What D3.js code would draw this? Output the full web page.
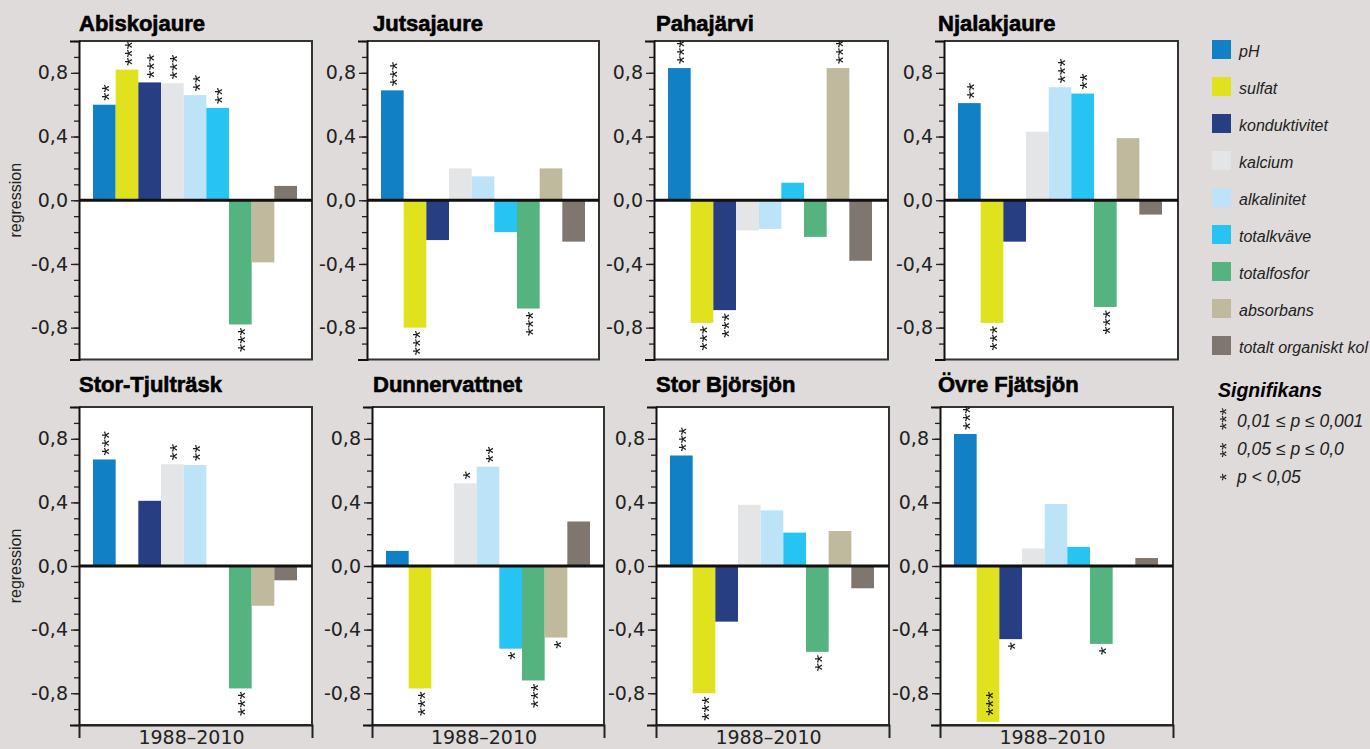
<!DOCTYPE html>
<html><head><meta charset="utf-8">
<script src="https://cdn.jsdelivr.net/npm/d3@7"></script>
<style>
html,body{margin:0;padding:0;background:#dedbda;}
svg{display:block;}
.stars{filter:grayscale(1);}
</style></head><body>
<svg id="chart" width="1370" height="749"></svg>
<script>
// ---------- data ----------
const variables = ["pH","sulfat","konduktivitet","kalcium","alkalinitet","totalkväve","totalfosfor","absorbans","totalt organiskt kol"];
const colors = ["#1180c4","#e1e21e","#273e82","#e4e5e7","#bde3f8","#25c4f2","#55b37f","#bfba9d","#7f776f"];
const lakes = ["Abiskojaure","Jutsajaure","Pahajärvi","Njalakjaure","Stor-Tjulträsk","Dunnervattnet","Stor Björsjön","Övre Fjätsjön"];

const valuesAbiskojaure   = [0.60, 0.82, 0.74, 0.735, 0.66, 0.58, -0.78, -0.39, 0.09];
const valuesJutsajaure    = [0.69, -0.80, -0.25, 0.20, 0.15, -0.20, -0.68, 0.20, -0.26];
const valuesPahajarvi     = [0.83, -0.77, -0.69, -0.19, -0.18, 0.11, -0.23, 0.83, -0.38];
const valuesNjalakjaure   = [0.61, -0.77, -0.26, 0.43, 0.71, 0.67, -0.67, 0.39, -0.09];
const valuesStorTjultrask = [0.67, 0.01, 0.41, 0.64, 0.635, 0, -0.77, -0.25, -0.09];
const valuesDunnervattnet = [0.095, -0.77, 0, 0.52, 0.625, -0.52, -0.72, -0.45, 0.28];
const valuesStorBjorsjon  = [0.695, -0.80, -0.35, 0.385, 0.35, 0.21, -0.54, 0.22, -0.14];
const valuesOvreFjatsjon  = [0.83, -0.98, -0.46, 0.11, 0.39, 0.12, -0.49, 0, 0.05];

const sigAbiskojaure   = ["**","***","***","***","**","**","***","",""];
const sigJutsajaure    = ["***","***","","","","","***","",""];
const sigPahajarvi     = ["***","***","***","","","","","***",""];
const sigNjalakjaure   = ["**","***","","","***","**","***","",""];
const sigStorTjultrask = ["***","","","**","**","","***","",""];
const sigDunnervattnet = ["","***","","*","**","*","***","*",""];
const sigStorBjorsjon  = ["***","***","","","","","**","",""];
const sigOvreFjatsjon  = ["***","***","*","","","","*","",""];

const yTickValues = [-0.8, -0.4, 0, 0.4, 0.8];
const periodLabel = "1988–2010";
const yAxisTitle = "regression";
const sigTitle = "Signifikans";
const sigStars = ["***","**","*"];
const sigLabels = ["0,01 ≤ p ≤ 0,001", "0,05 ≤ p ≤ 0,0", "p < 0,05"];

const panelValues = [valuesAbiskojaure,valuesJutsajaure,valuesPahajarvi,valuesNjalakjaure,valuesStorTjultrask,valuesDunnervattnet,valuesStorBjorsjon,valuesOvreFjatsjon];
const panelSig = [sigAbiskojaure,sigJutsajaure,sigPahajarvi,sigNjalakjaure,sigStorTjultrask,sigDunnervattnet,sigStorBjorsjon,sigOvreFjatsjon];

// ---------- layout ----------
const layout = [
  {x0:79,  x1:312,  y0:41,  y1:359.5, tx:79,  ty:31},
  {x0:367, x1:599,  y0:41,  y1:359.5, tx:373, ty:31},
  {x0:654, x1:888,  y0:41,  y1:359.5, tx:656, ty:31},
  {x0:944, x1:1178, y0:41,  y1:359.5, tx:938, ty:31},
  {x0:79,  x1:312,  y0:407, y1:725,   tx:79,  ty:392},
  {x0:372, x1:604,  y0:407, y1:725,   tx:373, ty:392},
  {x0:656, x1:889,  y0:407, y1:725,   tx:656, ty:392},
  {x0:940, x1:1173, y0:407, y1:725,   tx:938, ty:392}
];

const svg = d3.select("#chart");
const locale = d3.formatLocale({decimal:",", thousands:" ", grouping:[3], currency:["",""], minus:"-"});
const fmt = locale.format(".1f");
const starFont = 21;

// rotated asterisk string; dir -1 = grows upward from y, +1 = grows downward from y
function addStars(g, s, cx, y, dir, fs, anchorMid) {
  const t = g.append("text").attr("class", "stars").attr("font-family", "Liberation Sans").attr("font-size", fs)
    .attr("fill", "#1a1a1a").text(s);
  const tx = cx + 0.56 * fs;
  if (anchorMid) t.attr("text-anchor", "middle");
  else t.attr("text-anchor", dir < 0 ? "start" : "end");
  t.attr("transform", `translate(${tx},${y}) rotate(-90)`);
  return t;
}

lakes.forEach((lake, i) => {
  const L = layout[i];
  const vals = panelValues[i];
  const sig = panelSig[i];
  const g = svg.append("g");
  const y = d3.scaleLinear().domain([-1, 1]).range([L.y1, L.y0]);
  const x = d3.scaleBand().domain(variables).range([L.x0 + 14, L.x0 + 218]).padding(0);

  g.append("rect").attr("x", L.x0).attr("y", L.y0)
    .attr("width", L.x1 - L.x0).attr("height", L.y1 - L.y0).attr("fill", "#fff");

  g.selectAll("rect.bar").data(vals).join("rect").attr("class", "bar")
    .attr("x", (d, j) => x(variables[j]))
    .attr("width", x.bandwidth())
    .attr("y", d => y(Math.max(0, d)))
    .attr("height", d => Math.abs(y(d) - y(0)))
    .attr("fill", (d, j) => colors[j]);

  // frame (top, right, bottom)
  g.append("path")
    .attr("d", `M${L.x0},${L.y0}H${L.x1}V${L.y1}H${L.x0}`)
    .attr("fill", "none").attr("stroke", "#333").attr("stroke-width", 2);

  // zero line
  g.append("line").attr("x1", L.x0).attr("x2", L.x1)
    .attr("y1", y(0)).attr("y2", y(0))
    .attr("stroke", "#111").attr("stroke-width", 3);

  // minor ticks
  const minor = g.append("g").attr("transform", `translate(${L.x0},0)`)
    .call(d3.axisLeft(y).tickValues(d3.range(-10, 11).map(k => k / 10)).tickSize(5).tickFormat(""));
  minor.select(".domain").remove();
  minor.selectAll("line").attr("stroke", "#222").attr("stroke-width", 1.3);

  // major axis
  const ax = g.append("g").attr("transform", `translate(${L.x0},0)`)
    .call(d3.axisLeft(y).tickValues(yTickValues).tickFormat(fmt).tickSize(8).tickSizeOuter(9).tickPadding(3));
  ax.select(".domain").attr("stroke", "#111").attr("stroke-width", 2);
  ax.selectAll(".tick line").attr("stroke", "#222").attr("stroke-width", 1.3);
  ax.selectAll(".tick text").attr("font-family", "DejaVu Sans").attr("font-size", 19).attr("fill", "#222");

  // bottom axis for lower row
  if (i >= 4) {
    const xs = d3.scaleLinear().domain([0, 1]).range([L.x0, L.x1]);
    const bx = g.append("g").attr("transform", `translate(0,${L.y1})`)
      .call(d3.axisBottom(xs).tickValues([]).tickSizeOuter(13));
    bx.select(".domain").attr("stroke", "#222").attr("stroke-width", 2);
    g.append("text").attr("x", (L.x0 + L.x1) / 2 - 4).attr("y", L.y1 + 19)
      .attr("text-anchor", "middle").attr("font-family", "DejaVu Sans").attr("font-size", 19)
      .attr("fill", "#222").text(periodLabel);
  }

  // y-axis title for first column
  if (i % 4 === 0) {
    g.append("text").attr("transform", `translate(21,${y(0)}) rotate(-90)`)
      .attr("text-anchor", "middle").attr("font-family", "Liberation Sans").attr("font-size", 16)
      .attr("fill", "#222").text(yAxisTitle);
  }

  // title
  g.append("text").attr("x", L.tx).attr("y", L.ty)
    .attr("font-family", "Liberation Sans").attr("font-weight", "bold").attr("font-size", 22)
    .attr("fill", "#000").attr("stroke", "#000").attr("stroke-width", 0.6).text(lake);

  // significance stars
  vals.forEach((v, j) => {
    if (!sig[j]) return;
    const cx = x(variables[j]) + x.bandwidth() / 2;
    const len = sig[j].length * 0.389 * starFont;
    if (v >= 0) {
      addStars(g, sig[j], cx, y(v) - 4, -1, starFont);
    } else {
      const sy = y(v) + 3;
      if (sy + len > L.y1 + 2) addStars(g, sig[j], cx, y(v) - 6, -1, starFont);
      else addStars(g, sig[j], cx, sy, 1, starFont);
    }
  });
});

// ---------- legend ----------
const leg = svg.append("g");
variables.forEach((v, i) => {
  leg.append("rect").attr("x", 1212).attr("y", 40 + 37 * i).attr("width", 19).attr("height", 19).attr("fill", colors[i]);
  leg.append("text").attr("x", 1239).attr("y", 40 + 37 * i + 16.5)
    .attr("font-family", "Liberation Sans").attr("font-style", "italic").attr("font-size", 16)
    .attr("fill", "#222").text(v);
});
leg.append("text").attr("x", 1218).attr("y", 397)
  .attr("font-family", "Liberation Sans").attr("font-weight", "bold").attr("font-style", "italic")
  .attr("font-size", 19.5).attr("fill", "#000").text(sigTitle);
const starCenters = [419, 450, 477];
const labelBase = [427, 455, 482.5];
sigStars.forEach((s, i) => {
  addStars(leg, s, 1222, starCenters[i], 0, 19, true);
  leg.append("text").attr("x", 1237).attr("y", labelBase[i])
    .attr("font-family", "Liberation Sans").attr("font-style", "italic").attr("font-size", 17.5)
    .attr("fill", "#222").text(sigLabels[i]);
});
</script>
</body></html>
